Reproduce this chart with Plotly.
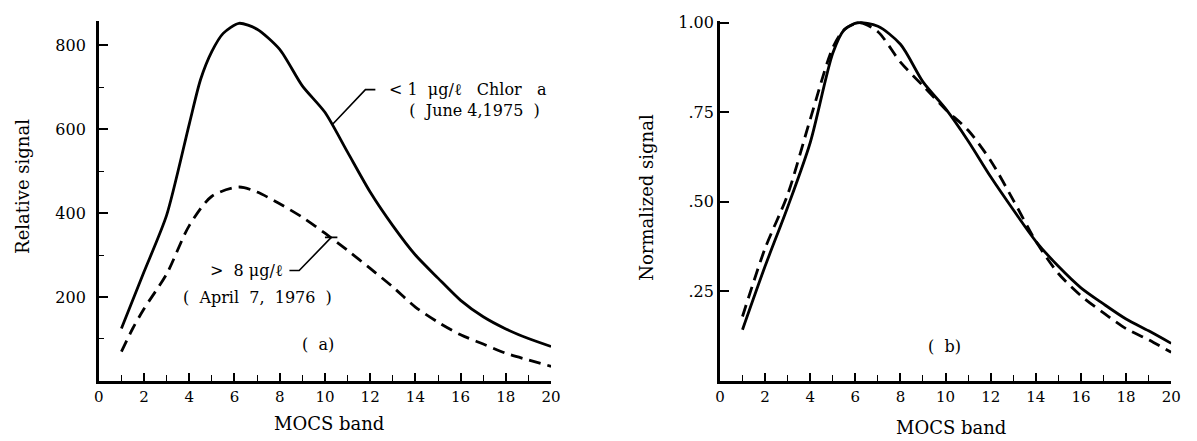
import plotly.graph_objects as go

W, H = 1197, 441

# ---------------- data ----------------
left_x_solid = [1, 2, 3, 4, 4.5, 5, 5.5, 6.2, 7, 8, 9, 10, 11, 12, 13, 14, 15, 16, 17, 18, 19, 20]
left_solid = [125, 260, 395, 612, 718, 785, 828, 852, 838, 790, 703, 640, 545, 450, 370, 300, 245, 192,
              153, 124, 101, 82]

left_x_dashed = [1, 1.5, 2, 3, 4, 5, 6.2, 7, 8, 9, 10, 11, 12, 13, 14, 15, 16, 17, 18, 19, 20]
left_dashed = [70, 125, 172, 255, 370, 440, 462, 450, 422, 390, 352, 311, 268, 224, 176, 140, 110, 88, 66, 50, 35]

right_x_solid = [1, 2, 3, 4, 5, 5.5, 6.1, 7, 8, 9, 10, 11, 12, 13, 14, 15, 16, 17, 18, 19, 20]
right_solid = [0.143, 0.32, 0.485, 0.665, 0.915, 0.98, 1.0, 0.99, 0.94, 0.835, 0.76, 0.67, 0.57, 0.478,
               0.39, 0.32, 0.26, 0.215, 0.173, 0.14, 0.105]

right_x_dashed = [1, 2, 3, 4, 5, 5.5, 6.2, 7, 8, 9, 10, 11, 12, 13, 14, 15, 16, 17, 18, 19, 20]
right_dashed = [0.18, 0.37, 0.52, 0.73, 0.93, 0.98, 1.0, 0.975, 0.89, 0.824, 0.758, 0.70, 0.615, 0.505,
                0.39, 0.30, 0.238, 0.19, 0.146, 0.115, 0.08]

x_tick_vals = [0, 2, 4, 6, 8, 10, 12, 14, 16, 18, 20]
left_y_ticks = [200, 400, 600, 800]
left_y_minor = [100, 300, 500, 700]
right_y_ticks = [0.25, 0.50, 0.75, 1.00]
right_y_labels = [".25", ".50", ".75", "1.00"]

FONT = "DejaVu Serif"


def px(x):
    return x / W


def py(y):
    return 1 - y / H


fig = go.Figure()

line_w = 2.8
dash = "12px,7px"
fig.add_trace(go.Scatter(x=left_x_solid, y=left_solid, mode="lines", xaxis="x", yaxis="y",
                         line=dict(color="black", width=line_w, shape="spline", smoothing=0.7)))
fig.add_trace(go.Scatter(x=left_x_dashed, y=left_dashed, mode="lines", xaxis="x", yaxis="y",
                         line=dict(color="black", width=line_w, shape="spline", smoothing=0.8, dash=dash)))
fig.add_trace(go.Scatter(x=right_x_solid, y=right_solid, mode="lines", xaxis="x2", yaxis="y2",
                         line=dict(color="black", width=line_w, shape="spline", smoothing=0.8)))
fig.add_trace(go.Scatter(x=right_x_dashed, y=right_dashed, mode="lines", xaxis="x2", yaxis="y2",
                         line=dict(color="black", width=line_w, shape="spline", smoothing=0.8, dash=dash)))

common_x = dict(range=[0, 20], tickvals=x_tick_vals, ticks="inside", ticklen=8, tickwidth=1.5,
                tickcolor="black", showline=True, linewidth=2.5, linecolor="black",
                showgrid=False, zeroline=False, tickfont=dict(family=FONT, size=15, color="black"),
                minor=dict(dtick=1, ticks="inside", ticklen=6, tickwidth=1.3, tickcolor="black"),
                fixedrange=True)

fig.update_layout(
    width=W, height=H,
    margin=dict(l=0, r=0, t=0, b=0),
    paper_bgcolor="white", plot_bgcolor="white",
    showlegend=False,
    xaxis=dict(domain=[px(95), px(553)], anchor="y", **common_x),
    yaxis=dict(domain=[py(380), py(14)], anchor="x", range=[0, 858], tickvals=left_y_ticks,
               ticks="inside", ticklen=9, tickwidth=1.5, tickcolor="black",
               showline=True, linewidth=2.5, linecolor="black", showgrid=False, zeroline=False,
               tickfont=dict(family=FONT, size=16, color="black"), ticklabelstandoff=7,
               minor=dict(tickvals=left_y_minor, ticks="inside", ticklen=5, tickwidth=1.3,
                          tickcolor="black")),
    xaxis2=dict(domain=[px(724), px(1181)], anchor="y2", **common_x),
    yaxis2=dict(domain=[py(380), py(14)], anchor="x2", range=[0, 1.0055], tickvals=right_y_ticks,
                ticktext=right_y_labels, ticks="inside", ticklen=9, tickwidth=1.5, tickcolor="black",
                showline=True, linewidth=2.5, linecolor="black", showgrid=False, zeroline=False,
                tickfont=dict(family=FONT, size=16, color="black"), ticklabelstandoff=0),
)


def text(x, y, s, xanchor="center", size=16, angle=0, align="center"):
    fig.add_annotation(x=px(x), y=py(y), xref="paper", yref="paper", text=s, showarrow=False,
                       xanchor=xanchor, yanchor="middle", textangle=angle, align=align,
                       font=dict(family=FONT, size=size, color="black"))


# axis titles
text(17, 182, "Relative signal", size=18, angle=-90)
text(650, 193, "Normalized signal", size=18, angle=-90)
text(328, 423, "MOCS band", size=18)
text(958, 427, "MOCS band", size=18)

# panel labels
text(317, 343, "(  a)")
text(951, 345, "(  b)")

# curve labels
text(387, 95, "&lt; 1  μg/ℓ   Chlor   a<br>&nbsp;&nbsp;&nbsp;&nbsp;(  June 4,1975  )",
     xanchor="left", align="left")
text(284, 268, "&gt;  8 μg/ℓ", xanchor="right")
text(178, 295, "(  April  7,  1976  )", xanchor="left")

# leader lines (data coordinates)
fig.add_shape(type="path", xref="x", yref="y",
              path="M 10.35 612 L 11.79 694 L 12.23 694",
              line=dict(color="black", width=1.6))
fig.add_shape(type="path", xref="x", yref="y",
              path="M 10.28 342 L 8.86 263 L 8.43 263",
              line=dict(color="black", width=1.6))
fig.add_shape(type="line", xref="x", yref="y", x0=10.0, y0=342, x1=10.55, y1=342,
              line=dict(color="black", width=1.6))

fig.write_html("out.html")
